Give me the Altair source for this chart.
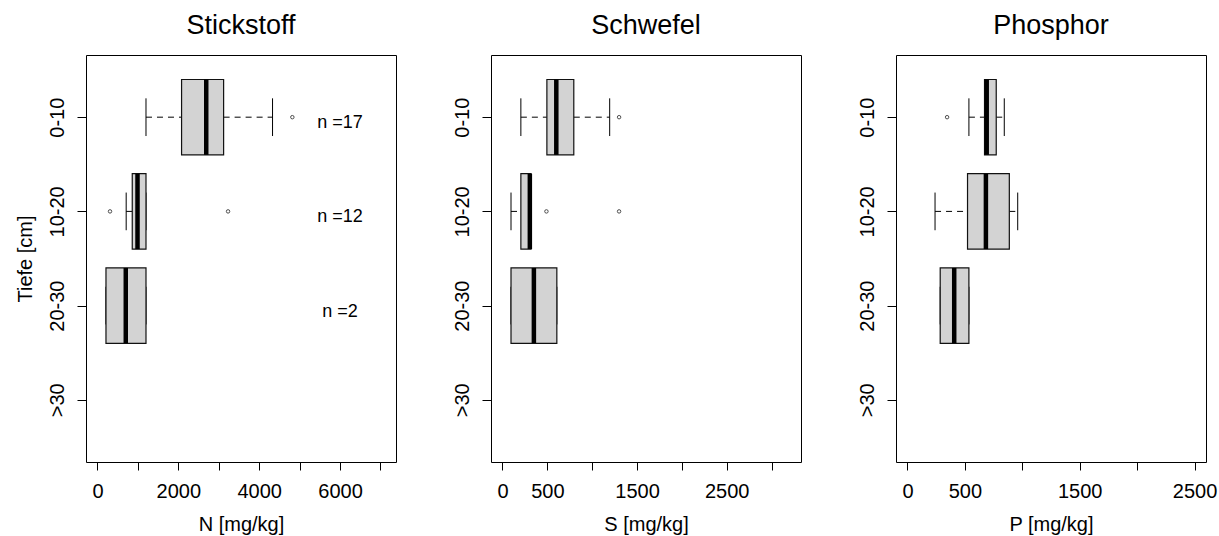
import altair as alt
import pandas as pd

FONT = "Liberation Sans"

categories = ["0-10", "10-20", "20-30", ">30"]
positions = [1, 2, 3]  # rows that have data
n_counts = [17, 12, 2]

# Stickstoff (N)
N_wlo = [1200, 710, 210]
N_q1 = [2080, 860, 210]
N_med = [2690, 990, 700]
N_q3 = [3120, 1200, 1200]
N_whi = [4330, 1200, 1200]
N_out_pos = [1, 2, 2]
N_out_val = [4820, 310, 3230]

# Schwefel (S)
S_wlo = [205, 95, 95]
S_q1 = [495, 205, 95]
S_med = [600, 305, 350]
S_q3 = [795, 318, 606]
S_whi = [1195, 318, 606]
S_out_pos = [1, 2, 2]
S_out_val = [1300, 490, 1300]

# Phosphor (P)
P_wlo = [535, 240, 285]
P_q1 = [671, 523, 285]
P_med = [690, 683, 407]
P_q3 = [773, 887, 535]
P_whi = [843, 960, 535]
P_out_pos = [1]
P_out_val = [345]

ylabel_expr = ("datum.value == 1 ? '0-10' : datum.value == 2 ? '10-20' : "
               "datum.value == 3 ? '20-30' : datum.value == 4 ? '>30' : ''")


def panel(title, xtitle, xdom, tick_vals, label_vals, wlo, q1, med, q3, whi,
          out_pos, out_val, ytitle=None, ns=None):
    df = pd.DataFrame({"pos": positions, "wlo": wlo, "q1": q1, "med": med,
                       "q3": q3, "whi": whi})
    dfo = pd.DataFrame({"pos": out_pos, "val": out_val})

    cond = " || ".join(f"datum.value == {v}" for v in label_vals)
    xaxis = alt.Axis(values=tick_vals, labelExpr=f"({cond}) ? datum.label : ''",
                     format="d", title=xtitle, labelOverlap=False,
                     tickSize=8, labelPadding=11, titlePadding=13)
    yaxis_kw = dict(values=[1, 2, 3, 4], labelExpr=ylabel_expr, labelAngle=270,
                    labelAlign="center", labelBaseline="alphabetic",
                    tickSize=9, labelPadding=14, labelOverlap=False)
    if ytitle:
        yaxis = alt.Axis(title=ytitle, titleBaseline="alphabetic",
                         titlePadding=16, **yaxis_kw)
    else:
        yaxis = alt.Axis(title=None, **yaxis_kw)
    xs = alt.Scale(domain=xdom, nice=False, zero=False)
    ys = alt.Scale(domain=[4.66, 0.34], nice=False, zero=False)

    base = alt.Chart(df).transform_calculate(
        ylo="datum.pos - 0.4", yhi="datum.pos + 0.4",
        clo="datum.pos - 0.2", chi="datum.pos + 0.2")

    wl = base.mark_rule(color="black", strokeWidth=1, strokeDash=[6, 5]).encode(
        x=alt.X("wlo:Q", scale=xs, axis=xaxis), x2="q1:Q",
        y=alt.Y("pos:Q", scale=ys, axis=yaxis))
    wh = base.mark_rule(color="black", strokeWidth=1, strokeDash=[6, 5]).encode(
        x=alt.X("q3:Q", scale=xs, axis=xaxis), x2="whi:Q",
        y=alt.Y("pos:Q", scale=ys, axis=yaxis))
    cl = base.mark_rule(color="black", strokeWidth=1).encode(
        x=alt.X("wlo:Q", scale=xs, axis=xaxis),
        y=alt.Y("clo:Q", scale=ys, axis=yaxis), y2="chi:Q")
    ch = base.mark_rule(color="black", strokeWidth=1).encode(
        x=alt.X("whi:Q", scale=xs, axis=xaxis),
        y=alt.Y("clo:Q", scale=ys, axis=yaxis), y2="chi:Q")
    box = base.mark_rect(fill="#d3d3d3", stroke="#111111", strokeWidth=1.2).encode(
        x=alt.X("q1:Q", scale=xs, axis=xaxis), x2="q3:Q",
        y=alt.Y("ylo:Q", scale=ys, axis=yaxis), y2="yhi:Q")
    md = base.mark_rule(color="black", strokeWidth=4.5).encode(
        x=alt.X("med:Q", scale=xs, axis=xaxis),
        y=alt.Y("ylo:Q", scale=ys, axis=yaxis), y2="yhi:Q")
    outl = alt.Chart(dfo).mark_point(shape="circle", filled=False, color="black",
                                     size=12, strokeWidth=1).encode(
        x=alt.X("val:Q", scale=xs, axis=xaxis),
        y=alt.Y("pos:Q", scale=ys, axis=yaxis))
    layers = [wl, wh, cl, ch, box, md, outl]
    if ns is not None:
        dft = pd.DataFrame({"pos": positions, "lab": [f"n ={n}" for n in ns],
                            "xt": [6000] * len(ns)})
        txt = alt.Chart(dft).mark_text(font=FONT, fontSize=18, align="center",
                                       baseline="alphabetic", dy=11,
                                       color="black").encode(
            x=alt.X("xt:Q", scale=xs, axis=xaxis),
            y=alt.Y("pos:Q", scale=ys, axis=yaxis), text="lab:N")
        layers.append(txt)
    return alt.layer(*layers).properties(
        width=310, height=407,
        title=alt.TitleParams(title, font=FONT, fontSize=27, fontWeight="normal",
                              baseline="bottom", offset=-12, color="black"))


p1 = panel("Stickstoff", "N [mg/kg]", [-284, 7384], list(range(0, 7001, 1000)),
           [0, 2000, 4000, 6000], N_wlo, N_q1, N_med, N_q3, N_whi,
           N_out_pos, N_out_val, ytitle="Tiefe [cm]", ns=n_counts)
p2 = panel("Schwefel", "S [mg/kg]", [-128, 3328], list(range(0, 3001, 500)),
           [0, 500, 1500, 2500], S_wlo, S_q1, S_med, S_q3, S_whi,
           S_out_pos, S_out_val)
p3 = panel("Phosphor", "P [mg/kg]", [-100, 2600], list(range(0, 2501, 500)),
           [0, 500, 1500, 2500], P_wlo, P_q1, P_med, P_q3, P_whi,
           P_out_pos, P_out_val)

chart = alt.hconcat(p1, p2, p3, spacing=95, bounds="flush").properties(
    padding={"left": 14, "top": 11, "right": 0, "bottom": 0},
    background="white"
).configure_view(stroke="black", strokeWidth=1).configure_axis(
    grid=False, domain=False, tickColor="black", tickWidth=1,
    labelColor="black", labelFont=FONT, labelFontSize=20,
    titleFont=FONT, titleFontSize=20, titleFontWeight="normal", titleColor="black"
)

chart.save("out.html", embed_options={"renderer": "svg", "actions": False})
